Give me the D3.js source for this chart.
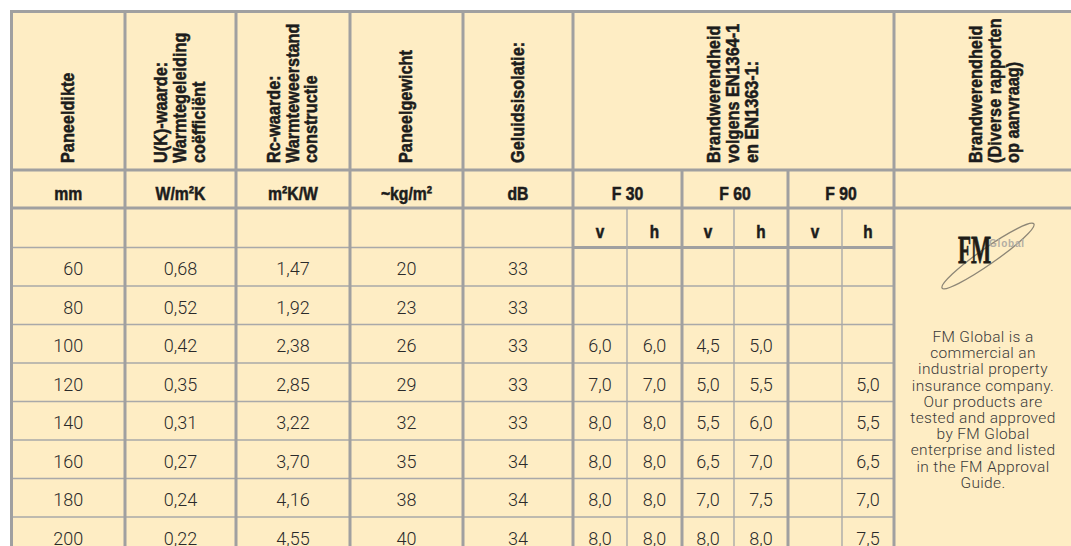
<!DOCTYPE html>
<meta charset="utf-8">
<style>
body { margin: 0; background: #fff; }
.head { font-family: "Liberation Sans", Arial, sans-serif; font-weight: bold; fill: #1c1c1c; stroke: #1c1c1c; stroke-width: 0.55px; }
.cell { font-family: Roboto, "Liberation Sans", sans-serif; font-weight: 300; fill: #2a2a2a; font-size: 18px; }
.note { font-family: Roboto, "Liberation Sans", sans-serif; font-weight: 300; fill: #3a3a3a; font-size: 15.5px; letter-spacing: 0.35px; }
</style>
<svg width="1071" height="546"></svg>
<script src="https://d3js.org/d3.v7.min.js"></script>
<script>
// table values
var thickness = [60, 80, 100, 120, 140, 160, 180, 200];
var uValue    = [0.68, 0.52, 0.42, 0.35, 0.31, 0.27, 0.24, 0.22];
var rcValue   = [1.47, 1.92, 2.38, 2.85, 3.22, 3.70, 4.16, 4.55];
var weight    = [20, 23, 26, 29, 32, 35, 38, 40];
var sound     = [33, 33, 33, 33, 33, 34, 34, 34];
var f30v = [null, null, 6.0, 7.0, 8.0, 8.0, 8.0, 8.0];
var f30h = [null, null, 6.0, 7.0, 8.0, 8.0, 8.0, 8.0];
var f60v = [null, null, 4.5, 5.0, 5.5, 6.5, 7.0, 8.0];
var f60h = [null, null, 5.0, 5.5, 6.0, 7.0, 7.5, 8.0];
var f90v = [null, null, null, null, null, null, null, null];
var f90h = [null, null, null, 5.0, 5.5, 6.5, 7.0, 7.5];

var units = ["mm", "W/m²K", "m²K/W", "~kg/m²", "dB"];
var fireClasses = ["F 30", "F 60", "F 90"];
var sides = ["v", "h"];
var headers = [
  ["Paneeldikte"],
  ["U(K)-waarde:", "Warmtegeleiding", "coëfficiënt"],
  ["Rc-waarde:", "Warmteweerstand", "constructie"],
  ["Paneelgewicht"],
  ["Geluidsisolatie:"]
];
var fireHeader = ["Brandwerendheid", "volgens EN1364-1", "en EN1363-1:"];
var lastHeader = ["Brandwerendheid", "(Diverse rapporten", "op aanvraag)"];
var fmNote = ["FM Global is a", "commercial an", "industrial property", "insurance company.",
  "Our products are", "tested and approved", "by FM Global", "enterprise and listed",
  "in the FM Approval", "Guide."];

var svg = d3.select("svg");
var nl = d3.formatLocale({decimal: ",", thousands: ".", grouping: [3], currency: ["", ""]});
var f1 = nl.format(".1f"), f2 = nl.format(".2f");

// column layout
var colWidths = [113.5, 111, 114, 113, 110, 54, 55, 52, 54, 54, 52, 202];
var x0 = 11.5;
var edges = [x0];
colWidths.forEach(function(w) { edges.push(edges[edges.length - 1] + w); });
var colMid = function(i) { return (edges[i] + edges[i + 1]) / 2; };

var yTop = 11.5, yHead = 170, yUnit = 208, ySub = 247.5;
var y = d3.scaleBand().domain(thickness).range([ySub, ySub + thickness.length * 38.5]);

var thick = "#a0a0a0", thin = "#a9a9a9";

svg.append("rect")
    .attr("x", x0).attr("y", yTop)
    .attr("width", edges[12] - x0).attr("height", 560)
    .attr("fill", "#feedc4");

var lines = svg.append("g");
function line(x1, y1, x2, y2, heavy) {
  lines.append("line")
      .attr("x1", x1).attr("y1", y1).attr("x2", x2).attr("y2", y2)
      .attr("stroke", heavy ? thick : thin)
      .attr("stroke-width", heavy ? 3 : 1.4);
}

// row lines
thickness.slice(1).forEach(function(t) { line(x0, y(t), edges[11], y(t), false); });
line(x0, ySub, edges[5], ySub, false);
line(edges[5], ySub, edges[11], ySub, true);
// sub column lines
[6, 8, 10].forEach(function(i) { line(edges[i], yUnit, edges[i], 560, false); });
// group lines
[7, 9].forEach(function(i) { line(edges[i], yHead, edges[i], 560, true); });
[0, 1, 2, 3, 4, 5, 11].forEach(function(i) { line(edges[i], yTop, edges[i], 560, true); });
line(x0 - 1.5, yTop, edges[12], yTop, true);
line(x0, yHead, edges[12], yHead, true);
line(x0, yUnit, edges[12], yUnit, true);

// rotated headers
function rotHeader(cx, lns) {
  var pitch = 19, n = lns.length;
  var t = svg.append("g")
      .attr("transform", "translate(" + cx + ",163) rotate(-90) scale(0.88,1)")
    .append("text")
      .attr("class", "head")
      .attr("font-size", 18.5);
  lns.forEach(function(s, i) {
    t.append("tspan").attr("x", 0).attr("y", (i - (n - 1) / 2) * pitch + 5.5).text(s);
  });
}
headers.forEach(function(h, i) { rotHeader(colMid(i), h); });
rotHeader((edges[5] + edges[11]) / 2, fireHeader);
rotHeader(colMid(11), lastHeader);

// units row
function hText(cx, cy, s, size, sx) {
  svg.append("g")
      .attr("transform", "translate(" + cx + "," + cy + ") scale(" + sx + ",1)")
    .append("text")
      .attr("class", "head")
      .attr("font-size", size)
      .attr("text-anchor", "middle")
      .text(s);
}
units.forEach(function(u, i) { hText(colMid(i), 199.5, u, 19, 0.83); });
fireClasses.forEach(function(f, k) { hText((edges[5 + 2 * k] + edges[7 + 2 * k]) / 2, 199.5, f, 19, 0.83); });
d3.range(6).forEach(function(k) { hText(colMid(5 + k), 238, sides[k % 2], 18, 0.85); });

// data cells
var cols = [
  {v: thickness, fmt: String, end: true},
  {v: uValue, fmt: f2},
  {v: rcValue, fmt: f2},
  {v: weight, fmt: String},
  {v: sound, fmt: String},
  {v: f30v, fmt: f1}, {v: f30h, fmt: f1},
  {v: f60v, fmt: f1}, {v: f60h, fmt: f1},
  {v: f90v, fmt: f1}, {v: f90h, fmt: f1}
];
cols.forEach(function(c, i) {
  svg.append("g").selectAll("text")
    .data(c.v.map(function(v, r) { return {v: v, t: thickness[r]}; }).filter(function(d) { return d.v != null; }))
    .enter().append("text")
      .attr("class", "cell")
      .attr("x", c.end ? colMid(i) + 15 : colMid(i))
      .attr("y", function(d) { return y(d.t) + 27.5; })
      .attr("text-anchor", c.end ? "end" : "middle")
      .text(function(d) { return c.fmt(d.v); });
});

// FM Global logo
var lx = 990;
svg.append("ellipse")
    .attr("cx", lx - 2).attr("cy", 256).attr("rx", 56).attr("ry", 8)
    .attr("transform", "rotate(-35," + (lx - 2) + ",256)")
    .attr("fill", "none").attr("stroke", "#8d8676").attr("stroke-width", 1.3);
svg.append("g")
    .attr("transform", "translate(" + (lx - 32) + ",263) scale(0.52,1)")
  .append("text")
    .attr("font-family", "Liberation Serif, serif").attr("font-weight", "bold")
    .attr("font-size", 41).attr("fill", "#201c17")
    .attr("stroke", "#201c17").attr("stroke-width", 0.8)
    .text("FM");
svg.append("text")
    .attr("x", lx - 1).attr("y", 247)
    .attr("font-family", "Liberation Sans, sans-serif").attr("font-size", 10).attr("font-weight", "bold")
    .attr("letter-spacing", 0.8).attr("fill", "#b3ada3")
    .text("Global");

svg.append("g").selectAll("text")
  .data(fmNote)
  .enter().append("text")
    .attr("class", "note")
    .attr("x", colMid(11) - 12)
    .attr("y", function(d, i) { return 342 + i * 16.2; })
    .attr("text-anchor", "middle")
    .text(function(d) { return d; });
</script>
